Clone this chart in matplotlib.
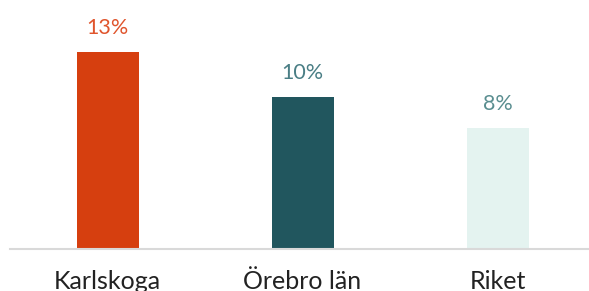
import matplotlib
matplotlib.use("Agg")
import matplotlib.pyplot as plt

categories = ["Karlskoga", "Örebro län", "Riket"]
values = [13, 10, 8]
labels = ["13%", "10%", "8%"]
bar_colors = ["#D63F0F", "#21565E", "#E4F3F0"]
label_colors = ["#E0552D", "#4A7E85", "#5A8E90"]

plt.rcParams["font.family"] = ["Lato", "DejaVu Sans"]

fig = plt.figure(figsize=(5.89, 2.91), dpi=100)
ax = fig.add_axes([10 / 589, 42 / 291, 579 / 589, 249 / 291])

x = list(range(len(categories)))
ax.bar(x, values, width=0.318, color=bar_colors, zorder=2)
for xi, v, lab, c in zip(x, values, labels, label_colors):
    ax.annotate(lab, (xi, v), xytext=(0, 10), textcoords="offset points",
                ha="center", va="bottom", fontsize=15.5, color=c)

ax.set_xlim(-0.5, 2.469)
ax.set_ylim(0, 16.4)
ax.set_xticks(x)
ax.set_xticklabels(categories, fontsize=18, color="#222222")
ax.tick_params(axis="x", length=0, pad=15)
ax.set_yticks([])
for s in ["top", "right", "left"]:
    ax.spines[s].set_visible(False)
ax.spines["bottom"].set_color("#d9d9d9")
ax.spines["bottom"].set_linewidth(1.5)

fig.savefig("out.png", dpi=100)
